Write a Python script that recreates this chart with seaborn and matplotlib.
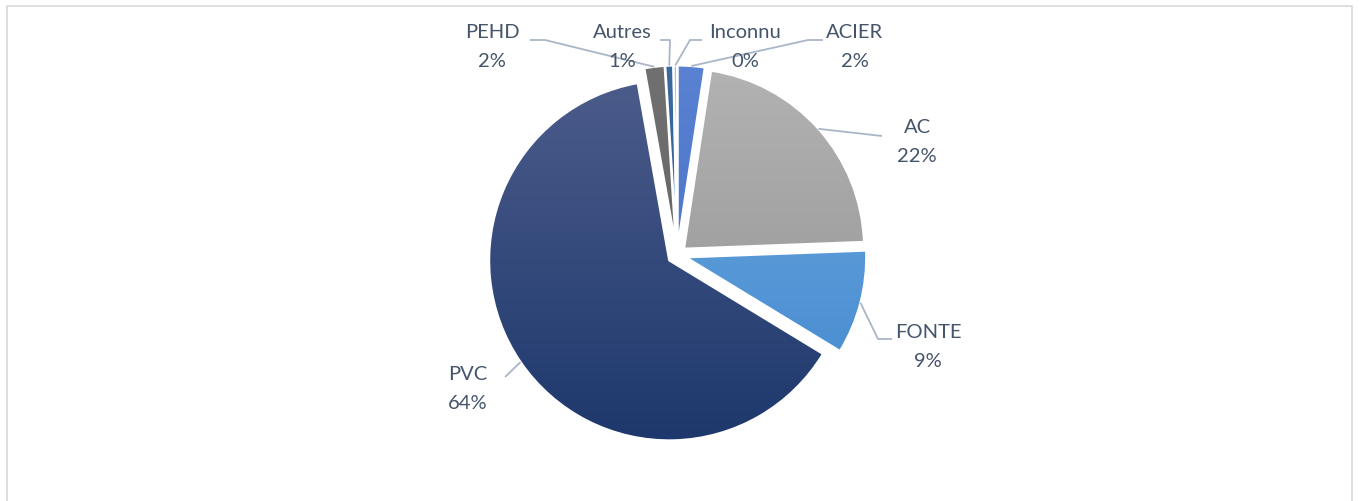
import numpy as np
import matplotlib
matplotlib.use("Agg")
import matplotlib.pyplot as plt
import seaborn as sns
from matplotlib.colors import LinearSegmentedColormap
from matplotlib.patches import Rectangle

sns.set_theme(style="white")
plt.rcParams['font.family'] = ['Lato', 'DejaVu Sans']

# ---- data ----
categories = ["ACIER", "AC", "FONTE", "PVC", "PEHD", "Autres", "Inconnu"]
values = [2.4, 22.0, 9.3, 63.5, 1.8, 0.7, 0.3]
pct_labels = ["2%", "22%", "9%", "64%", "2%", "1%", "0%"]
# gradient colours (top, bottom)
grad_top = ["#5B82D2", "#B4B4B4", "#70AAE0", "#4F5F8D", "#717171", "#3A6A9E", "#9DB8E4"]
grad_bot = ["#3E6CC4", "#8E8E8E", "#3F86CE", "#1B366B", "#5E5E5E", "#2A5A90", "#7FA0D6"]

# ---- layout (pixel space) ----
W, H = 1359, 502
fig = plt.figure(figsize=(W / 100, H / 100), dpi=100)
ax = fig.add_axes([0, 0, 1, 1])
ax.set_xlim(0, W)
ax.set_ylim(0, H)
ax.set_aspect('equal')
ax.axis('off')

def py(y):
    return H - y

cx, cy, R = 677, py(256), 180
explode_px = 9.5   # pie explode is in data units (= pixels here)
wedges, _ = ax.pie(values, center=(cx, cy), radius=R, startangle=90,
                   counterclock=False, explode=[explode_px] * len(values),
                   wedgeprops=dict(edgecolor='white', linewidth=1.5),
                   frame=True)

for w, ct, cb in zip(wedges, grad_top, grad_bot):
    cmap = LinearSegmentedColormap.from_list('g', [cb, ct])
    grad = np.linspace(0, 1, 256).reshape(-1, 1)
    x0, x1 = cx - R - 25, cx + R + 25
    y0, y1 = cy - R - 25, cy + R + 25
    im = ax.imshow(grad, extent=[x0, x1, y0, y1], origin='lower', cmap=cmap,
                   aspect='auto', zorder=1)
    im.set_clip_path(w)
    w.set_facecolor('none')
    w.set_zorder(2)

ax.set_xlim(0, W)
ax.set_ylim(0, H)

# label placement (pixel centres of the two-line labels) and leader-line bends
label_pos = {
    "ACIER": (855, 47), "AC": (917, 142), "FONTE": (928, 347), "PVC": (468, 389),
    "PEHD": (492, 47), "Autres": (622, 47), "Inconnu": (745, 47),
}
leader = {
    "ACIER": [(823, 41), (808, 41)],
    "AC": [(882, 137), (882, 137)],
    "FONTE": [(892, 340), (878, 340)],
    "PVC": [(505, 378), (505, 378)],
    "PEHD": [(530, 41), (545, 41)],
    "Autres": [(660, 41), (670, 41)],
    "Inconnu": [(702, 41), (690, 41)],
}
text_color = '#44546A'
line_color = '#A9B6C8'

for w, cat, pl in zip(wedges, categories, pct_labels):
    th = np.deg2rad((w.theta1 + w.theta2) / 2)
    wc = w.center
    rr = w.r
    ax_pt = (wc[0] + rr * np.cos(th), wc[1] + rr * np.sin(th))
    (a, b) = leader[cat]
    xs = [a[0], b[0], ax_pt[0]]
    ys = [py(a[1]), py(b[1]), ax_pt[1]]
    ax.plot(xs, ys, color=line_color, lw=1.3, zorder=5, solid_capstyle='butt')
    lx, ly = label_pos[cat]
    ax.text(lx, py(ly - 14.5), cat, ha='center', va='center', fontsize=14.5,
            color=text_color, zorder=6)
    ax.text(lx, py(ly + 14.5), pl, ha='center', va='center', fontsize=14.5,
            color=text_color, zorder=6)

# chart frame
ax.add_patch(Rectangle((6.5, py(520)), 1352 - 6.5, 520 - 7, fill=False,
                       edgecolor='#D9D9D9', lw=1.2, zorder=0))

fig.savefig('out.png', dpi=100, facecolor='white')
